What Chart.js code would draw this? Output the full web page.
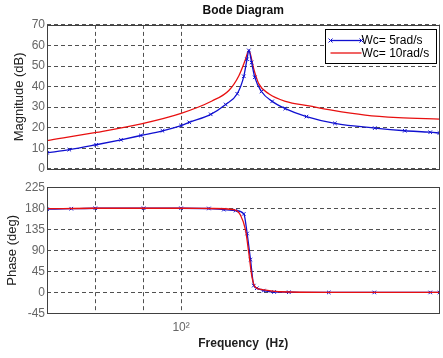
<!DOCTYPE html>
<html>
<head>
<meta charset="utf-8">
<script src="https://cdn.jsdelivr.net/npm/chart.js@4.4.0/dist/chart.umd.min.js"></script>
<style>
  html, body { margin: 0; padding: 0; background: #fff; }
  #wrap { position: relative; width: 443px; height: 358px; }
  canvas { position: absolute; left: 0; }
  #mag { top: 0; }
  #phase { top: 178px; }
</style>
</head>
<body>
<div id="wrap">
  <canvas id="mag" width="443" height="178"></canvas>
  <canvas id="phase" width="443" height="180"></canvas>
</div>
<script>
// --- data ---
const seriesLabels = ['Wc= 5rad/s', 'Wc= 10rad/s'];

// magnitude, Wc = 5 rad/s (blue, x markers)
const blueMagFreq = [45, 51.4, 60.3, 69.9, 78.7, 89.5, 100, 105, 119.3, 130.4, 139.7, 145.3, 148.1, 149.7,
                     152.2, 155.1, 161.4, 172, 186, 211, 250, 317, 379, 441, 466];
const blueMag = [7.8, 9.3, 11.7, 14.1, 16.2, 18.5, 21, 22.6, 26.5, 31.3, 36.5, 45, 53.3, 57.6,
                 51.7, 44.5, 37.6, 32.8, 29.3, 25.4, 22.1, 19.8, 18.5, 17.8, 17.4];

// magnitude, Wc = 10 rad/s (red)
const redMagFreq = [45, 60.4, 78.9, 100, 120.2, 132.9, 141.1, 146.8, 149.7, 154.2, 158.9, 168.6,
                    186.2, 214.3, 245.2, 299.4, 364.3, 466];
const redMag = [13.7, 17.7, 21.9, 27.0, 33.0, 38.1, 45.3, 53.3, 57.6, 48.5, 41.3, 36.5,
                32.8, 30.6, 28.5, 26.1, 24.9, 24.2];

// phase, Wc = 5 rad/s
const bluePhaseFreq = [45, 52, 60, 80, 100, 118, 129, 138.4, 145.3, 148.2, 151.2, 154.2, 157, 163.6,
                       174, 190, 241, 316, 441, 466];
const bluePhase = [178, 179, 180, 180, 180, 179.5, 177, 175, 168, 126, 70, 14.6, 9, 4,
                   1, 0.5, 0, 0, 0, 0];

// phase, Wc = 10 rad/s
const redPhaseFreq = [45, 60, 100, 120, 137, 142.5, 146.8, 149.7, 152.6, 155.7, 163.6, 180.5, 250, 466];
const redPhase = [179, 180, 180, 179.5, 177, 165, 133, 84, 32, 11, 5.6, 1.5, 0.3, 0];

const freqGrid = [60, 80, 100];
const magTicks = [0, 10, 20, 30, 40, 50, 60, 70];
const phaseTicks = [-45, 0, 45, 90, 135, 180, 225];

const BLUE = '#1010d0';
const RED = '#e81010';
const FONT = 'Liberation Sans, Arial, sans-serif';

const pts = (xs, ys) => xs.map((x, i) => ({ x: x, y: ys[i] }));

// solid box round the plot area
const framePlugin = {
  id: 'frame',
  afterDraw(chart) {
    const a = chart.chartArea, ctx = chart.ctx;
    ctx.save();
    ctx.setLineDash([]);
    ctx.strokeStyle = '#404040';
    ctx.lineWidth = 1;
    ctx.strokeRect(Math.round(a.left) + 0.5, Math.round(a.top) + 0.5,
                   Math.round(a.right - a.left) - 1, Math.round(a.bottom - a.top));
    ctx.restore();
  }
};

// boxed legend in the upper right corner
const boxLegend = {
  id: 'boxLegend',
  afterDraw(chart) {
    const a = chart.chartArea, ctx = chart.ctx;
    const w = 111, h = 34;
    const x0 = Math.round(a.right - w - 4) + 0.5, y0 = Math.round(a.top + 4) + 0.5;
    ctx.save();
    ctx.fillStyle = '#fff';
    ctx.fillRect(x0, y0, w, h);
    ctx.strokeStyle = '#000';
    ctx.lineWidth = 1;
    ctx.setLineDash([]);
    ctx.strokeRect(x0, y0, w, h);
    ctx.font = '12px ' + FONT;
    ctx.textBaseline = 'middle';
    chart.data.datasets.forEach((ds, i) => {
      const y = y0 + 11 + i * 12.5;
      ctx.strokeStyle = ds.borderColor;
      ctx.lineWidth = 1.3;
      ctx.beginPath();
      ctx.moveTo(x0 + 5, y);
      ctx.lineTo(x0 + 36, y);
      ctx.stroke();
      if (ds.pointRadius > 0) {
        [x0 + 5, x0 + 36].forEach(px => {
          ctx.lineWidth = 1;
          ctx.beginPath();
          ctx.moveTo(px - 2, y - 2); ctx.lineTo(px + 2, y + 2);
          ctx.moveTo(px - 2, y + 2); ctx.lineTo(px + 2, y - 2);
          ctx.stroke();
        });
      }
      ctx.fillStyle = '#000';
      ctx.fillText(ds.label, x0 + 36, y + 0.5);
    });
    ctx.restore();
  }
};

function xAxis(showLabels) {
  return {
    type: 'logarithmic',
    min: 45,
    max: 466,
    afterBuildTicks(scale) { scale.ticks = freqGrid.map(v => ({ value: v })); },
    afterFit(scale) { scale.height = showLabels ? 44.5 : 0; },
    grid: { color: '#505050', lineWidth: 1, drawTicks: false },
    border: { display: false, dash: [4, 3] },
    ticks: {
      display: showLabels,
      padding: 7,
      maxRotation: 0,
      autoSkip: false,
      color: '#666',
      font: { family: FONT, size: 12 },
      callback: v => (v === 100 ? '10²' : '')
    },
    title: {
      display: showLabels,
      text: 'Frequency  (Hz)',
      color: '#202020',
      padding: { top: 0, bottom: 6.8 },
      font: { family: FONT, size: 12, weight: 'bold' }
    }
  };
}

function yAxis(tickVals, titleText, titlePad) {
  return {
    min: tickVals[0],
    max: tickVals[tickVals.length - 1],
    afterBuildTicks(scale) { scale.ticks = tickVals.map(v => ({ value: v })); },
    afterFit(scale) { scale.width = 47; },
    grid: { color: '#505050', lineWidth: 1, drawTicks: false },
    border: { display: false, dash: [4, 3] },
    ticks: {
      padding: 2,
      color: '#666',
      font: { family: FONT, size: 12 }
    },
    title: {
      display: true,
      text: titleText,
      color: '#202020',
      padding: { top: titlePad, bottom: 0 },
      font: { family: FONT, size: 13 }
    }
  };
}

function lineSet(label, data, color, markers, order) {
  return {
    label: label,
    data: data,
    borderColor: color,
    backgroundColor: color,
    borderWidth: 1.3,
    pointStyle: 'crossRot',
    pointRadius: markers ? 2.5 : 0,
    pointBorderWidth: 1,
    pointHoverRadius: 0,
    cubicInterpolationMode: 'monotone',
    order: order
  };
}

Chart.defaults.animation = false;

new Chart(document.getElementById('mag'), {
  type: 'line',
  data: {
    datasets: [
      lineSet(seriesLabels[0], pts(blueMagFreq, blueMag), BLUE, true, 0),
      lineSet(seriesLabels[1], pts(redMagFreq, redMag), RED, false, 1)
    ]
  },
  options: {
    responsive: false,
    layout: { padding: { left: 0, right: 1.5, top: 0, bottom: 6.8 } },
    plugins: {
      legend: { display: false },
      tooltip: { enabled: false },
      title: {
        display: true,
        text: 'Bode Diagram',
        fullSize: false,
        color: '#101010',
        padding: { top: 3.5, bottom: 7 },
        font: { family: FONT, size: 12, weight: 'bold' }
      }
    },
    scales: {
      x: xAxis(false),
      y: yAxis(magTicks, 'Magnitude (dB)', 11.5)
    }
  },
  plugins: [framePlugin, boxLegend]
});

new Chart(document.getElementById('phase'), {
  type: 'line',
  data: {
    datasets: [
      lineSet(seriesLabels[0], pts(bluePhaseFreq, bluePhase), BLUE, true, 1),
      lineSet(seriesLabels[1], pts(redPhaseFreq, redPhase), RED, false, 0)
    ]
  },
  options: {
    responsive: false,
    layout: { padding: { left: 0, right: 1.5, top: 6.5, bottom: 0 } },
    plugins: {
      legend: { display: false },
      tooltip: { enabled: false }
    },
    scales: {
      x: xAxis(true),
      y: yAxis(phaseTicks, 'Phase (deg)', 4.5)
    }
  },
  plugins: [framePlugin]
});
</script>
</body>
</html>
